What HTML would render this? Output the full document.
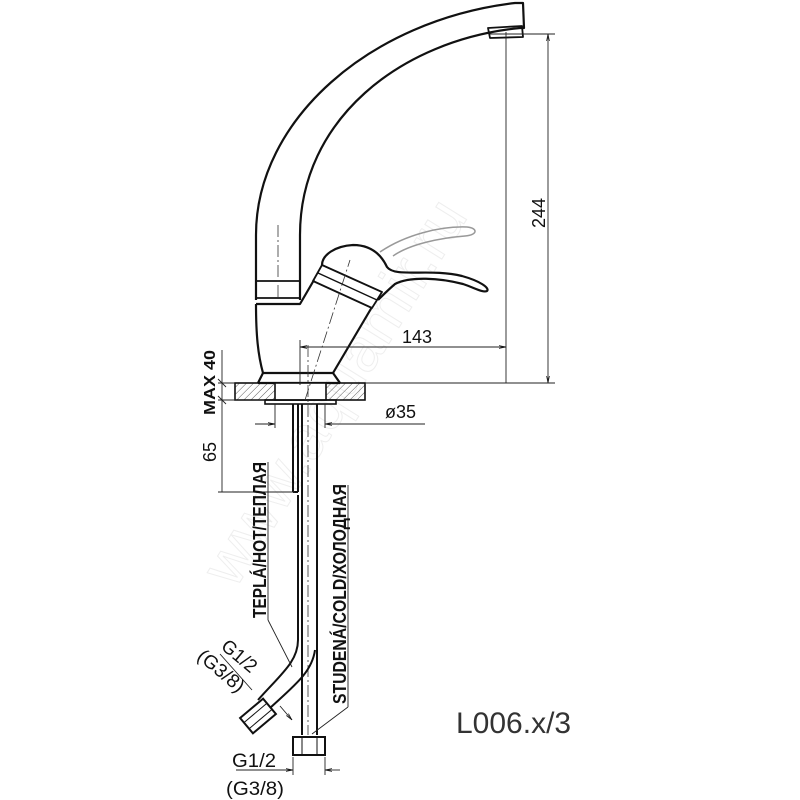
<!DOCTYPE html>
<html><head><meta charset="utf-8"><style>html,body{margin:0;padding:0;background:#fff}svg{display:block}</style></head>
<body>
<svg width="800" height="800" viewBox="0 0 800 800" xmlns="http://www.w3.org/2000/svg" font-family="Liberation Sans, DejaVu Sans, sans-serif">
<defs>
<pattern id="h" width="5" height="5" patternUnits="userSpaceOnUse" patternTransform="rotate(45)"><line x1="0" y1="0" x2="0" y2="5" stroke="#333" stroke-width="0.8"/></pattern>
<marker id="a" viewBox="0 0 10 10" refX="10" refY="5" markerWidth="8" markerHeight="8" orient="auto-start-reverse"><path d="M0,3 L10,5 L0,7" fill="none" stroke="#111" stroke-width="1"/></marker>
</defs>
<text x="0" y="0" transform="translate(235,590) rotate(-58)" font-size="62" fill="none" stroke="#eeeeee" stroke-width="1">www.aquamir.ru</text>

<g fill="none" stroke="#111" stroke-width="2.2" stroke-linejoin="round">
<path d="M256,300 L256,235 C256,120 370,20 515,3 L523,3 L524,28 L520,28 C400,40 300,120 300,235 L300,300"/>
<path d="M488,28 L522,26 L523,37 L490,38 Z" stroke-width="1.8"/>
<rect x="256" y="281" width="44" height="17" stroke-width="1.8"/>
<path d="M256,304 L300,304 L314,280"/>
<path d="M256,304 C256,335 258,355 263,373"/>
<path d="M333,373 L372,307"/>
<path d="M322,265 L382,292 L372,308 L313,281 Z" stroke-width="1.8"/>
<line x1="318" y1="273" x2="377" y2="300" stroke-width="1.4"/>
<path d="M322,265 C322,255 335,246 353,245 C368,245 380,252 387,267 C395,278 430,268 462,276 C480,281 490,288 487,291 C483,293 475,288 463,284 C440,278 410,276 395,284 C388,290 382,296 378,300"/>
<path d="M258,383 L263,373 L333,373 L340,383"/>
<line x1="258" y1="383" x2="340" y2="383"/>
</g>
<path d="M380,252 C405,235 440,226 467,227 C478,228 478,235 465,236 C440,238 410,244 393,256" fill="none" stroke="#999" stroke-width="1.5"/>

<rect x="235" y="383" width="130" height="17" fill="url(#h)" stroke="#111" stroke-width="1.6"/>
<rect x="275" y="383" width="51" height="17" fill="#fff" stroke="#111" stroke-width="1.6"/>
<rect x="265" y="400" width="71" height="4" fill="none" stroke="#111" stroke-width="1.6"/>

<g stroke="#333" stroke-width="0.8" stroke-dasharray="12,3,2,3" fill="none">
<line x1="278" y1="225" x2="278" y2="300"/>
<line x1="308" y1="345" x2="308" y2="735"/>
<line x1="305" y1="400" x2="350" y2="260"/>
</g>

<g fill="none" stroke="#111" stroke-width="2">
<line x1="293" y1="404" x2="293" y2="492"/>
<line x1="298" y1="404" x2="298" y2="492"/>
<line x1="293" y1="492" x2="298" y2="492"/>
<line x1="302" y1="404" x2="302" y2="735"/>
<line x1="317" y1="404" x2="317" y2="735"/>
<path d="M298,495 L298,640 C298,662 280,675 258,700"/>
<path d="M315,650 C312,672 295,685 270,708"/>
<rect x="293" y="737" width="32" height="18"/>
<line x1="302" y1="737" x2="302" y2="755" stroke-width="1"/>
<line x1="317" y1="737" x2="317" y2="755" stroke-width="1"/>
<g transform="translate(258,716) rotate(-40)"><rect x="-15" y="-10" width="30" height="20"/><line x1="-15" y1="-4" x2="15" y2="-4" stroke-width="1"/><line x1="-15" y1="4" x2="15" y2="4" stroke-width="1"/></g>
</g>

<g stroke="#222" stroke-width="0.9" fill="none">
<line x1="506" y1="32" x2="506" y2="383"/>
<line x1="490" y1="34" x2="555" y2="34"/>
<line x1="548" y1="34" x2="548" y2="383" marker-start="url(#a)" marker-end="url(#a)"/>
<line x1="365" y1="383" x2="555" y2="383"/>
<line x1="300" y1="347" x2="506" y2="347" marker-start="url(#a)" marker-end="url(#a)"/>
<line x1="300" y1="340" x2="300" y2="385"/>
<line x1="222" y1="350" x2="222" y2="492"/>
<line x1="218" y1="383" x2="235" y2="383"/>
<line x1="218" y1="400" x2="265" y2="400"/>
<line x1="218" y1="492" x2="295" y2="492"/>
<line x1="218" y1="379" x2="226" y2="387"/><line x1="218" y1="396" x2="226" y2="404"/>
<line x1="255" y1="424" x2="275" y2="424" marker-end="url(#a)"/>
<line x1="345" y1="424" x2="325" y2="424" marker-end="url(#a)"/>
<line x1="325" y1="424" x2="425" y2="424"/>
<line x1="275" y1="404" x2="275" y2="428"/><line x1="325" y1="404" x2="325" y2="428"/>
<line x1="236" y1="770" x2="293" y2="770" marker-end="url(#a)"/>
<line x1="340" y1="770" x2="325" y2="770" marker-end="url(#a)"/>
<line x1="293" y1="757" x2="293" y2="775"/><line x1="325" y1="757" x2="325" y2="775"/>
<path d="M268,620 L292,667"/>
<path d="M348,707 L312,734 M348,485 L348,707"/>
<path d="M268,620 L268,462"/>
<path d="M220,654 L252,690"/>
<path d="M280,706 L292,720" marker-end="url(#a)"/>
</g>

<g fill="#111">
<text transform="translate(545,228) rotate(-90)" font-size="18">244</text>
<text x="402" y="343" font-size="18">143</text>
<text x="385" y="418" font-size="18">ø35</text>
<text transform="translate(215,415) rotate(-90)" font-size="16" font-weight="bold" textLength="65" lengthAdjust="spacingAndGlyphs">MAX 40</text>
<text transform="translate(216,462) rotate(-90)" font-size="18">65</text>
<text transform="translate(266,618) rotate(-90)" font-size="18" font-weight="bold" textLength="156" lengthAdjust="spacingAndGlyphs">TEPLÁ/HOT/ТЕПЛАЯ</text>
<text transform="translate(346,704) rotate(-90)" font-size="18" font-weight="bold" textLength="220" lengthAdjust="spacingAndGlyphs">STUDENÁ/COLD/ХОЛОДНАЯ</text>
<text transform="translate(220,648) rotate(40)" font-size="19" textLength="40" lengthAdjust="spacingAndGlyphs">G1/2</text>
<text transform="translate(196,658) rotate(40)" font-size="19" textLength="55" lengthAdjust="spacingAndGlyphs">(G3/8)</text>
<text x="232" y="767" font-size="19" textLength="44" lengthAdjust="spacingAndGlyphs">G1/2</text>
<text x="226" y="795" font-size="19" textLength="58" lengthAdjust="spacingAndGlyphs">(G3/8)</text>
<text x="456" y="733" font-size="30" fill="#333">L006.x/3</text>
</g>
</svg>
</body></html>
